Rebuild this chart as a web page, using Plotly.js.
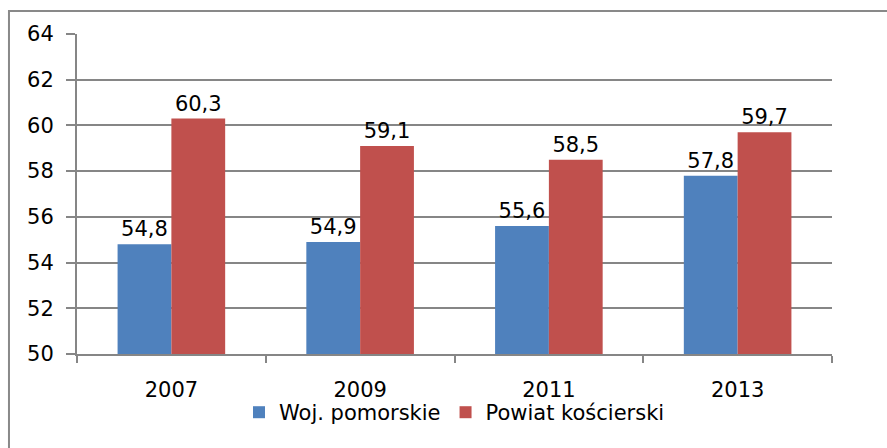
<!DOCTYPE html>
<html>
<head>
<meta charset="utf-8">
<script src="https://cdn.plot.ly/plotly-3.0.1.min.js"></script>
<style>
  body { margin: 0; background: #fff; }
  #chart { width: 887px; height: 448px; }
</style>
</head>
<body>
<div id="chart"></div>
<script>
// data
const years = ['2007', '2009', '2011', '2013'];
const wojPomorskie = [54.8, 54.9, 55.6, 57.8];
const powiatKoscierski = [60.3, 59.1, 58.5, 59.7];
const seriesNames = ['Woj. pomorskie', 'Powiat kościerski'];
const yTicks = [50, 52, 54, 56, 58, 60, 62, 64];

const font = { family: 'DejaVu Sans, sans-serif', size: 21, color: '#000' };

const data = [
    {
        type: 'bar',
        x: years,
        y: wojPomorskie,
        name: seriesNames[0],
        marker: { color: '#4F81BD' },
        texttemplate: '%{y:.1f}',
        textposition: 'outside',
        cliponaxis: false,
        textfont: font
    },
    {
        type: 'bar',
        x: years,
        y: powiatKoscierski,
        name: seriesNames[1],
        marker: { color: '#C0504D' },
        texttemplate: '%{y:.1f}',
        textposition: 'outside',
        cliponaxis: false,
        textfont: font
    }
];

const layout = {
    width: 887,
    height: 448,
    margin: { l: 77, r: 55, t: 34, b: 94 },
    paper_bgcolor: '#fff',
    plot_bgcolor: '#fff',
    separators: ',.',
    font: font,
    barmode: 'group',
    bargap: 0.43,
    bargroupgap: 0,
    showlegend: true,
    legend: {
        orientation: 'h',
        x: 0.5,
        xanchor: 'center',
        y: -0.183,
        yanchor: 'middle',
        bgcolor: 'rgba(0,0,0,0)',
        font: font,
        itemwidth: 30,
        tracegroupgap: 0
    },
    xaxis: {
        type: 'category',
        tickson: 'boundaries',
        ticks: 'outside',
        ticklen: 7,
        tickcolor: '#868686',
        tickwidth: 2,
        showline: true,
        linecolor: '#868686',
        linewidth: 2,
        ticklabelstandoff: 16,
        tickfont: font
    },
    yaxis: {
        range: [50, 64],
        tickvals: yTicks,
        ticks: 'outside',
        ticklen: 9,
        tickcolor: '#868686',
        tickwidth: 2,
        showline: true,
        linecolor: '#868686',
        linewidth: 2,
        showgrid: true,
        gridcolor: '#868686',
        gridwidth: 2,
        zeroline: false,
        ticklabelstandoff: 8,
        tickfont: font
    },
    shapes: [{
        type: 'rect',
        xref: 'paper',
        yref: 'paper',
        x0: -0.0901,
        x1: 1.2,
        y0: -0.4,
        y1: 1.0719,
        line: { color: '#898989', width: 2 }
    }]
};

Plotly.newPlot('chart', data, layout, { displayModeBar: false, staticPlot: true });
</script>
</body>
</html>
